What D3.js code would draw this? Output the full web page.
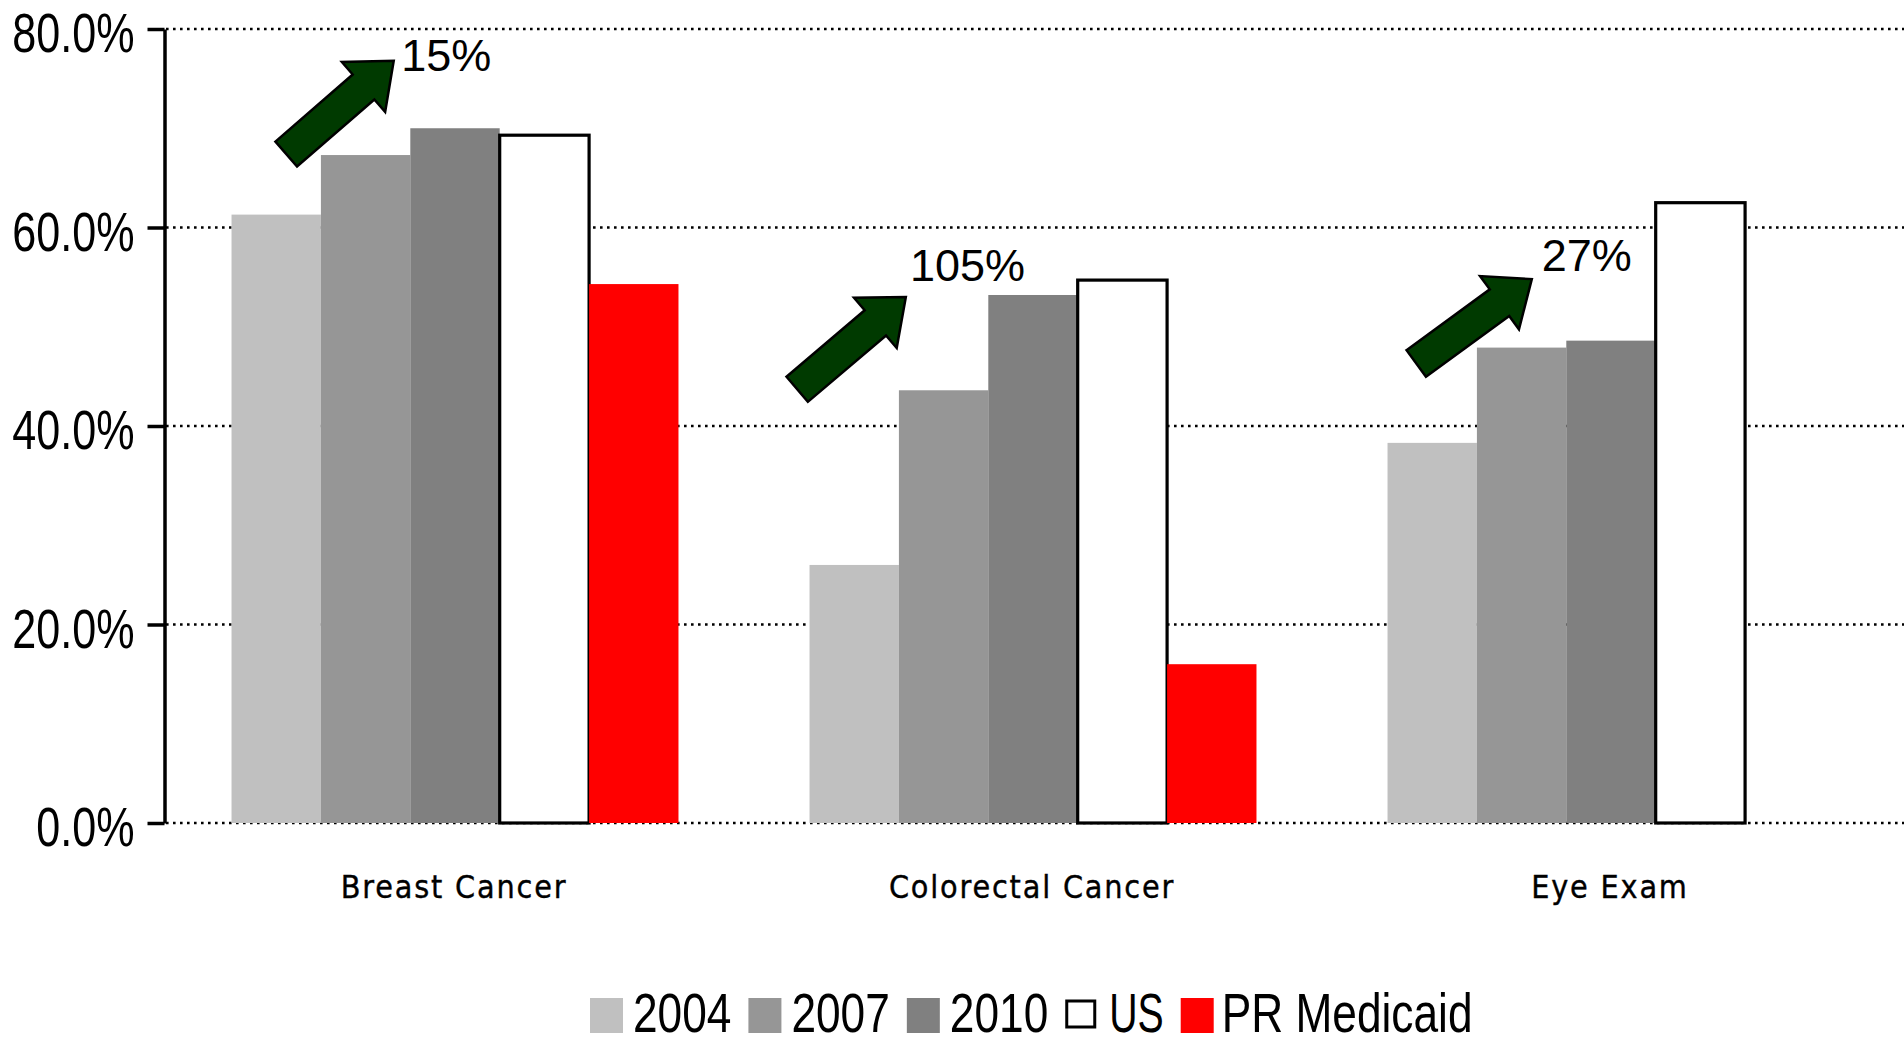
<!DOCTYPE html>
<html>
<head>
<meta charset="utf-8">
<script src="https://cdn.jsdelivr.net/npm/d3@7"></script>
<style>
  body { margin: 0; background: #fff; }
  svg { display: block; }
</style>
</head>
<body>
<script>
// chart data
var categories = ["Breast Cancer", "Colorectal Cancer", "Eye Exam"];
var seriesNames = ["2004", "2007", "2010", "US", "PR Medicaid"];
var values2004 = [61.3, 26.0, 38.3];
var values2007 = [67.3, 43.6, 47.9];
var values2010 = [70.0, 53.2, 48.6];
var valuesUS = [69.3, 54.7, 62.5];
var valuesPR = [54.3, 16.0, null];
var yTicks = [0, 20, 40, 60, 80];
var growthLabels = ["15%", "105%", "27%"];

var seriesValues = [values2004, values2007, values2010, valuesUS, valuesPR];
var seriesFill = ["#c0c0c0", "#969696", "#808080", "#ffffff", "#ff0000"];

// arrow anchors: [fraction of category band, value in %]
var arrowFrom = [[0.208, 67.4], [0.092, 43.7], [0.163, 46.3]];
var arrowTo = [[0.394, 76.8], [0.280, 53.0], [0.363, 54.8]];
var labelAt = [[0.407, 75.8], [0.287, 54.6], [0.380, 55.6]];

var width = 1904, height = 1038;
var plotLeft = 166, plotRight = 1900, plotTop = 29, plotBottom = 823;

var svg = d3.select("body").append("svg")
  .attr("width", width)
  .attr("height", height);

var x0 = d3.scaleBand().domain(categories).range([plotLeft, plotRight]).padding(0);
var x1 = d3.scaleBand().domain(seriesNames).range([0, x0.bandwidth()])
  .paddingInner(0).paddingOuter(0.733);
var y = d3.scaleLinear().domain([0, 80]).range([plotBottom, plotTop]);

// squeeze text horizontally like the narrow font of the original
function squeeze(sel, k) {
  sel.each(function () {
    var w = this.getComputedTextLength();
    d3.select(this).attr("textLength", w * k).attr("lengthAdjust", "spacingAndGlyphs");
  });
}

// dotted gridlines
svg.append("g").selectAll("line")
  .data(yTicks)
  .enter().append("line")
  .attr("x1", plotLeft)
  .attr("x2", width)
  .attr("y1", function (d) { return y(d); })
  .attr("y2", function (d) { return y(d); })
  .attr("stroke", "#000")
  .attr("stroke-width", 2.6)
  .attr("stroke-dasharray", "2.6 4.4");

// bars
var rows = [];
categories.forEach(function (c, i) {
  seriesNames.forEach(function (s, j) {
    if (seriesValues[j][i] != null) rows.push({cat: c, series: s, idx: j, value: seriesValues[j][i]});
  });
});

svg.append("g").selectAll("rect")
  .data(rows)
  .enter().append("rect")
  .attr("x", function (d) { return x0(d.cat) + x1(d.series); })
  .attr("y", function (d) { return y(d.value); })
  .attr("width", x1.bandwidth())
  .attr("height", function (d) { return y(0) - y(d.value); })
  .attr("fill", function (d) { return seriesFill[d.idx]; })
  .attr("stroke", function (d) { return d.series === "US" ? "#000" : "none"; })
  .attr("stroke-width", 3.2);

// y axis
var yAxis = svg.append("g")
  .attr("transform", "translate(" + (plotLeft - 1.5) + ",0)")
  .call(d3.axisLeft(y)
    .tickValues(yTicks)
    .tickSize(17)
    .tickSizeOuter(0)
    .tickPadding(13)
    .tickFormat(function (d) { return d.toFixed(1) + "%"; }));
yAxis.select(".domain").attr("stroke-width", 3.5);
yAxis.selectAll(".tick line").attr("stroke-width", 3.5);
yAxis.selectAll(".tick text")
  .attr("dy", "0.41em")
  .style("font-family", "'Liberation Sans', Arial, sans-serif")
  .style("font-size", "56px")
  .attr("fill", "#000")
  .call(squeeze, 0.77);

// category labels
svg.append("g").selectAll("text")
  .data(categories)
  .enter().append("text")
  .attr("x", function (d) { return x0(d) + x0.bandwidth() / 2 - 1; })
  .attr("y", 898)
  .attr("text-anchor", "middle")
  .style("font-family", "'DejaVu Sans', Verdana, sans-serif")
  .style("font-size", "32px")
  .style("letter-spacing", "2px")
  .style("stroke", "#000")
  .style("stroke-width", 0.4)
  .text(function (d) { return d; })
  .call(squeeze, 0.9);

// growth arrows
var hw = 16.5, HW = 33, hl = 40;
categories.forEach(function (c, i) {
  var ax = x0(c) + arrowFrom[i][0] * x0.step(), ay = y(arrowFrom[i][1]);
  var bx = x0(c) + arrowTo[i][0] * x0.step(), by = y(arrowTo[i][1]);
  var L = Math.sqrt((bx - ax) * (bx - ax) + (by - ay) * (by - ay));
  var ang = Math.atan2(by - ay, bx - ax) * 180 / Math.PI;
  var pts = [[0, -hw], [L - hl, -hw], [L - hl, -HW], [L, 0], [L - hl, HW], [L - hl, hw], [0, hw]];
  svg.append("polygon")
    .attr("points", pts.map(function (p) { return p.join(","); }).join(" "))
    .attr("transform", "translate(" + ax + "," + ay + ") rotate(" + ang + ")")
    .attr("fill", "#003a00")
    .attr("stroke", "#000")
    .attr("stroke-width", 2.5)
    .attr("stroke-linejoin", "miter");
  svg.append("text")
    .attr("x", x0(c) + labelAt[i][0] * x0.step())
    .attr("y", y(labelAt[i][1]))
    .style("font-family", "'Liberation Sans', Arial, sans-serif")
    .style("font-size", "45px")
    .text(growthLabels[i]);
});

// legend
var legend = svg.append("g");
var lx = 590;
seriesNames.forEach(function (s, j) {
  if (s === "US") {
    legend.append("rect")
      .attr("x", lx + 1.5).attr("y", 1001)
      .attr("width", 28).attr("height", 26)
      .attr("fill", "#fff").attr("stroke", "#000").attr("stroke-width", 3);
    lx += 31 + 13;
  } else {
    legend.append("rect")
      .attr("x", lx).attr("y", 998)
      .attr("width", 33).attr("height", 35)
      .attr("fill", seriesFill[j]);
    lx += 33 + (s === "PR Medicaid" ? 8 : 10);
  }
  var t = legend.append("text")
    .attr("x", lx)
    .attr("y", 1032)
    .style("font-family", "'Liberation Sans', Arial, sans-serif")
    .style("font-size", "56px")
    .text(s)
    .call(squeeze, s === "US" ? 0.7 : 0.79);
  lx += +t.attr("textLength") + 17;
});
</script>
</body>
</html>
